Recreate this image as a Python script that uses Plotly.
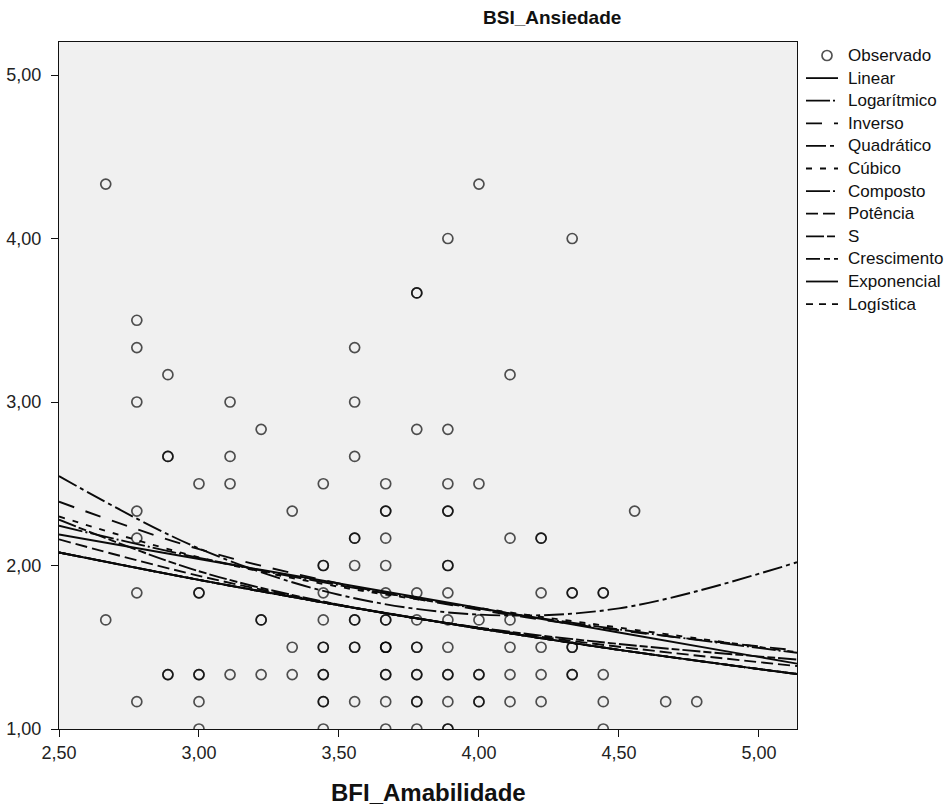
import plotly.graph_objects as go

# ---------------- data ----------------
obs_x = [
    2.667, 2.667,
    2.778, 2.778, 2.778, 2.778, 2.778, 2.778, 2.778,
    2.889, 2.889, 2.889,
    3.000, 3.000, 3.000, 3.000, 3.000,
    3.111, 3.111, 3.111, 3.111,
    3.222, 3.222, 3.222,
    3.333, 3.333, 3.333,
    3.444, 3.444, 3.444, 3.444, 3.444, 3.444, 3.444, 3.444,
    3.556, 3.556, 3.556, 3.556, 3.556, 3.556, 3.556, 3.556,
    3.667, 3.667, 3.667, 3.667, 3.667, 3.667, 3.667, 3.667, 3.667, 3.667,
    3.778, 3.778, 3.778, 3.778, 3.778, 3.778, 3.778, 3.778,
    3.889, 3.889, 3.889, 3.889, 3.889, 3.889, 3.889, 3.889, 3.889, 3.889, 3.889,
    4.000, 4.000, 4.000, 4.000, 4.000,
    4.111, 4.111, 4.111, 4.111, 4.111, 4.111,
    4.222, 4.222, 4.222, 4.222, 4.222,
    4.333, 4.333, 4.333, 4.333,
    4.444, 4.444, 4.444, 4.444,
    4.556, 4.667, 4.778,
]
obs_y = [
    4.333, 1.667,
    3.500, 3.333, 3.000, 2.333, 2.167, 1.833, 1.167,
    3.167, 2.667, 1.333,
    2.500, 1.833, 1.333, 1.167, 1.000,
    3.000, 2.667, 2.500, 1.333,
    2.833, 1.667, 1.333,
    2.333, 1.500, 1.333,
    2.500, 2.000, 1.833, 1.667, 1.500, 1.333, 1.167, 1.000,
    3.333, 3.000, 2.667, 2.167, 2.000, 1.667, 1.500, 1.167,
    2.500, 2.333, 2.167, 2.000, 1.833, 1.667, 1.500, 1.333, 1.167, 1.000,
    3.667, 2.833, 1.833, 1.667, 1.500, 1.333, 1.167, 1.000,
    4.000, 2.833, 2.500, 2.333, 2.000, 1.833, 1.667, 1.500, 1.333, 1.167, 1.000,
    4.333, 2.500, 1.667, 1.333, 1.167,
    3.167, 2.167, 1.667, 1.500, 1.333, 1.167,
    2.167, 1.833, 1.500, 1.333, 1.167,
    4.000, 1.833, 1.500, 1.333,
    1.833, 1.333, 1.167, 1.000,
    2.333, 1.167, 1.167,
]
obs_n = [
    1, 1,
    1, 1, 1, 1, 1, 1, 1,
    1, 2, 2,
    1, 2, 2, 1, 1,
    1, 1, 1, 1,
    1, 2, 1,
    1, 1, 1,
    1, 2, 1, 1, 2, 2, 2, 1,
    1, 1, 1, 2, 1, 2, 2, 1,
    1, 2, 1, 1, 1, 2, 3, 2, 1, 1,
    2, 1, 1, 1, 2, 2, 2, 1,
    1, 1, 1, 2, 2, 1, 1, 1, 2, 1, 2,
    1, 1, 1, 2, 2,
    1, 1, 1, 1, 1, 1,
    2, 1, 1, 1, 1,
    1, 2, 2, 2,
    2, 1, 1, 1,
    1, 1, 1,
]

# fitted curves
curve_x = [2.50, 3.00, 3.50, 4.00, 4.50, 5.136]
linear      = [2.190, 2.040, 1.890, 1.740, 1.590, 1.400]
logaritmico = [2.243, 2.047, 1.880, 1.736, 1.609, 1.466]
inverso     = [2.390, 2.100, 1.890, 1.729, 1.604, 1.480]
quadratico  = [2.547, 2.104, 1.821, 1.700, 1.738, 2.020]
cubico      = [2.300, 2.050, 1.870, 1.740, 1.620, 1.470]
composto    = [2.080, 1.912, 1.757, 1.615, 1.484, 1.336]
potencia    = [2.160, 1.937, 1.759, 1.618, 1.503, 1.385]
s_curve     = [2.280, 1.965, 1.760, 1.620, 1.520, 1.425]
crescimento = [2.080, 1.912, 1.757, 1.615, 1.484, 1.336]
exponencial = [2.080, 1.912, 1.757, 1.615, 1.484, 1.336]
logistica   = [2.080, 1.912, 1.757, 1.615, 1.484, 1.336]

x_ticks = [2.5, 3.0, 3.5, 4.0, 4.5, 5.0]
x_ticktext = ["2,50", "3,00", "3,50", "4,00", "4,50", "5,00"]
y_ticks = [1, 2, 3, 4, 5]
y_ticktext = ["1,00", "2,00", "3,00", "4,00", "5,00"]

# ---------------- figure ----------------
W, H = 949, 807
ML, MR, MT, MB = 59, 152, 42, 78
PW, PH = W - ML - MR, H - MT - MB


def px_to_paper_x(px):
    return (px - ML) / PW


def px_to_paper_y(py):
    return 1 - (py - MT) / PH


px_list, py_list = [], []
for xv, yv, n in zip(obs_x, obs_y, obs_n):
    px_list += [xv] * n
    py_list += [yv] * n

FONT = "Liberation Sans, Arial, sans-serif"
LINE_COLOR = "#0a0a0a"
MARK_COLOR = "rgba(0,0,0,0.68)"

fig = go.Figure()
fig.add_trace(go.Scatter(
    x=px_list, y=py_list, mode="markers", name="Observado", showlegend=False,
    marker=dict(symbol="circle-open", size=10, color=MARK_COLOR,
                line=dict(width=1.7)),
))

curves = [
    ("Linear", linear, "solid"),
    ("Logarítmico", logaritmico, "24px,3px,2px,3px"),
    ("Inverso", inverso, "16px,12px"),
    ("Quadrático", quadratico, "20px,4px,4px,4px"),
    ("Cúbico", cubico, "6px,8px"),
    ("Composto", composto, "24px,3px,2px,3px"),
    ("Potência", potencia, "12px,5px"),
    ("S", s_curve, "18px,3px,8px,3px"),
    ("Crescimento", crescimento, "14px,4px,6px,4px"),
    ("Exponencial", exponencial, "solid"),
    ("Logística", logistica, "7px,6px"),
]
for name, vals, dash in curves:
    fig.add_trace(go.Scatter(
        x=curve_x, y=vals, mode="lines", name=name, showlegend=False,
        line=dict(color=LINE_COLOR, width=1.9, dash=dash, shape="spline"),
    ))

# ---- hand-built legend (to match the tight SPSS spacing) ----
LEG_Y0, LEG_DY = 55.5, 22.6
SYM_X0, SYM_X1, TXT_X = 806, 838, 846
legend_items = [("Observado", None)] + [(n, d) for n, _, d in curves]
shapes, annotations = [], []
for i, (name, dash) in enumerate(legend_items):
    yp = px_to_paper_y(LEG_Y0 + i * LEG_DY)
    if dash is None:
        shapes.append(dict(type="circle", xref="paper", yref="paper",
                           xsizemode="pixel", ysizemode="pixel",
                           xanchor=px_to_paper_x(827), yanchor=yp,
                           x0=-5, x1=5, y0=-5, y1=5,
                           line=dict(color=MARK_COLOR, width=1.7)))
    else:
        shapes.append(dict(type="line", xref="paper", yref="paper",
                           x0=px_to_paper_x(SYM_X0), x1=px_to_paper_x(SYM_X1),
                           y0=yp, y1=yp,
                           line=dict(color=LINE_COLOR, width=1.8, dash=dash)))
    annotations.append(dict(text=name, xref="paper", yref="paper",
                            x=px_to_paper_x(TXT_X), y=yp,
                            xanchor="left", yanchor="middle", showarrow=False,
                            font=dict(family=FONT, size=17, color="#111")))

annotations += [
    dict(text="<b>BSI_Ansiedade</b>", xref="paper", yref="paper",
         x=0.668, y=1.035, xanchor="center", yanchor="middle",
         showarrow=False, font=dict(family=FONT, size=19, color="#111")),
    dict(text="<b>BFI_Amabilidade</b>", xref="paper", yref="paper",
         x=0.5, y=-0.092, xanchor="center", yanchor="middle",
         showarrow=False, font=dict(family=FONT, size=24, color="#111")),
]

fig.update_layout(
    width=W, height=H,
    margin=dict(l=ML, r=MR, t=MT, b=MB),
    paper_bgcolor="white", plot_bgcolor="#f0f0f0",
    font=dict(family=FONT, size=16, color="#222"),
    showlegend=False,
    xaxis=dict(range=[2.5, 5.136], tickvals=x_ticks, ticktext=x_ticktext,
               showgrid=False, zeroline=False, showline=True, mirror=True,
               linecolor="#111", linewidth=1.3, ticks="outside", ticklen=7,
               tickcolor="#111", tickfont=dict(size=18, color="#222"),
               automargin=False),
    yaxis=dict(range=[1.0, 5.202], tickvals=y_ticks, ticktext=y_ticktext,
               showgrid=False, zeroline=False, showline=True, mirror=True,
               linecolor="#111", linewidth=1.3, ticks="outside", ticklen=7,
               tickcolor="#111", tickfont=dict(size=18, color="#222"),
               ticklabelstandoff=6, automargin=False),
    shapes=shapes,
    annotations=annotations,
)

fig.write_html("out.html", config={"displayModeBar": False},
               post_script="document.body.style.margin='0';")
